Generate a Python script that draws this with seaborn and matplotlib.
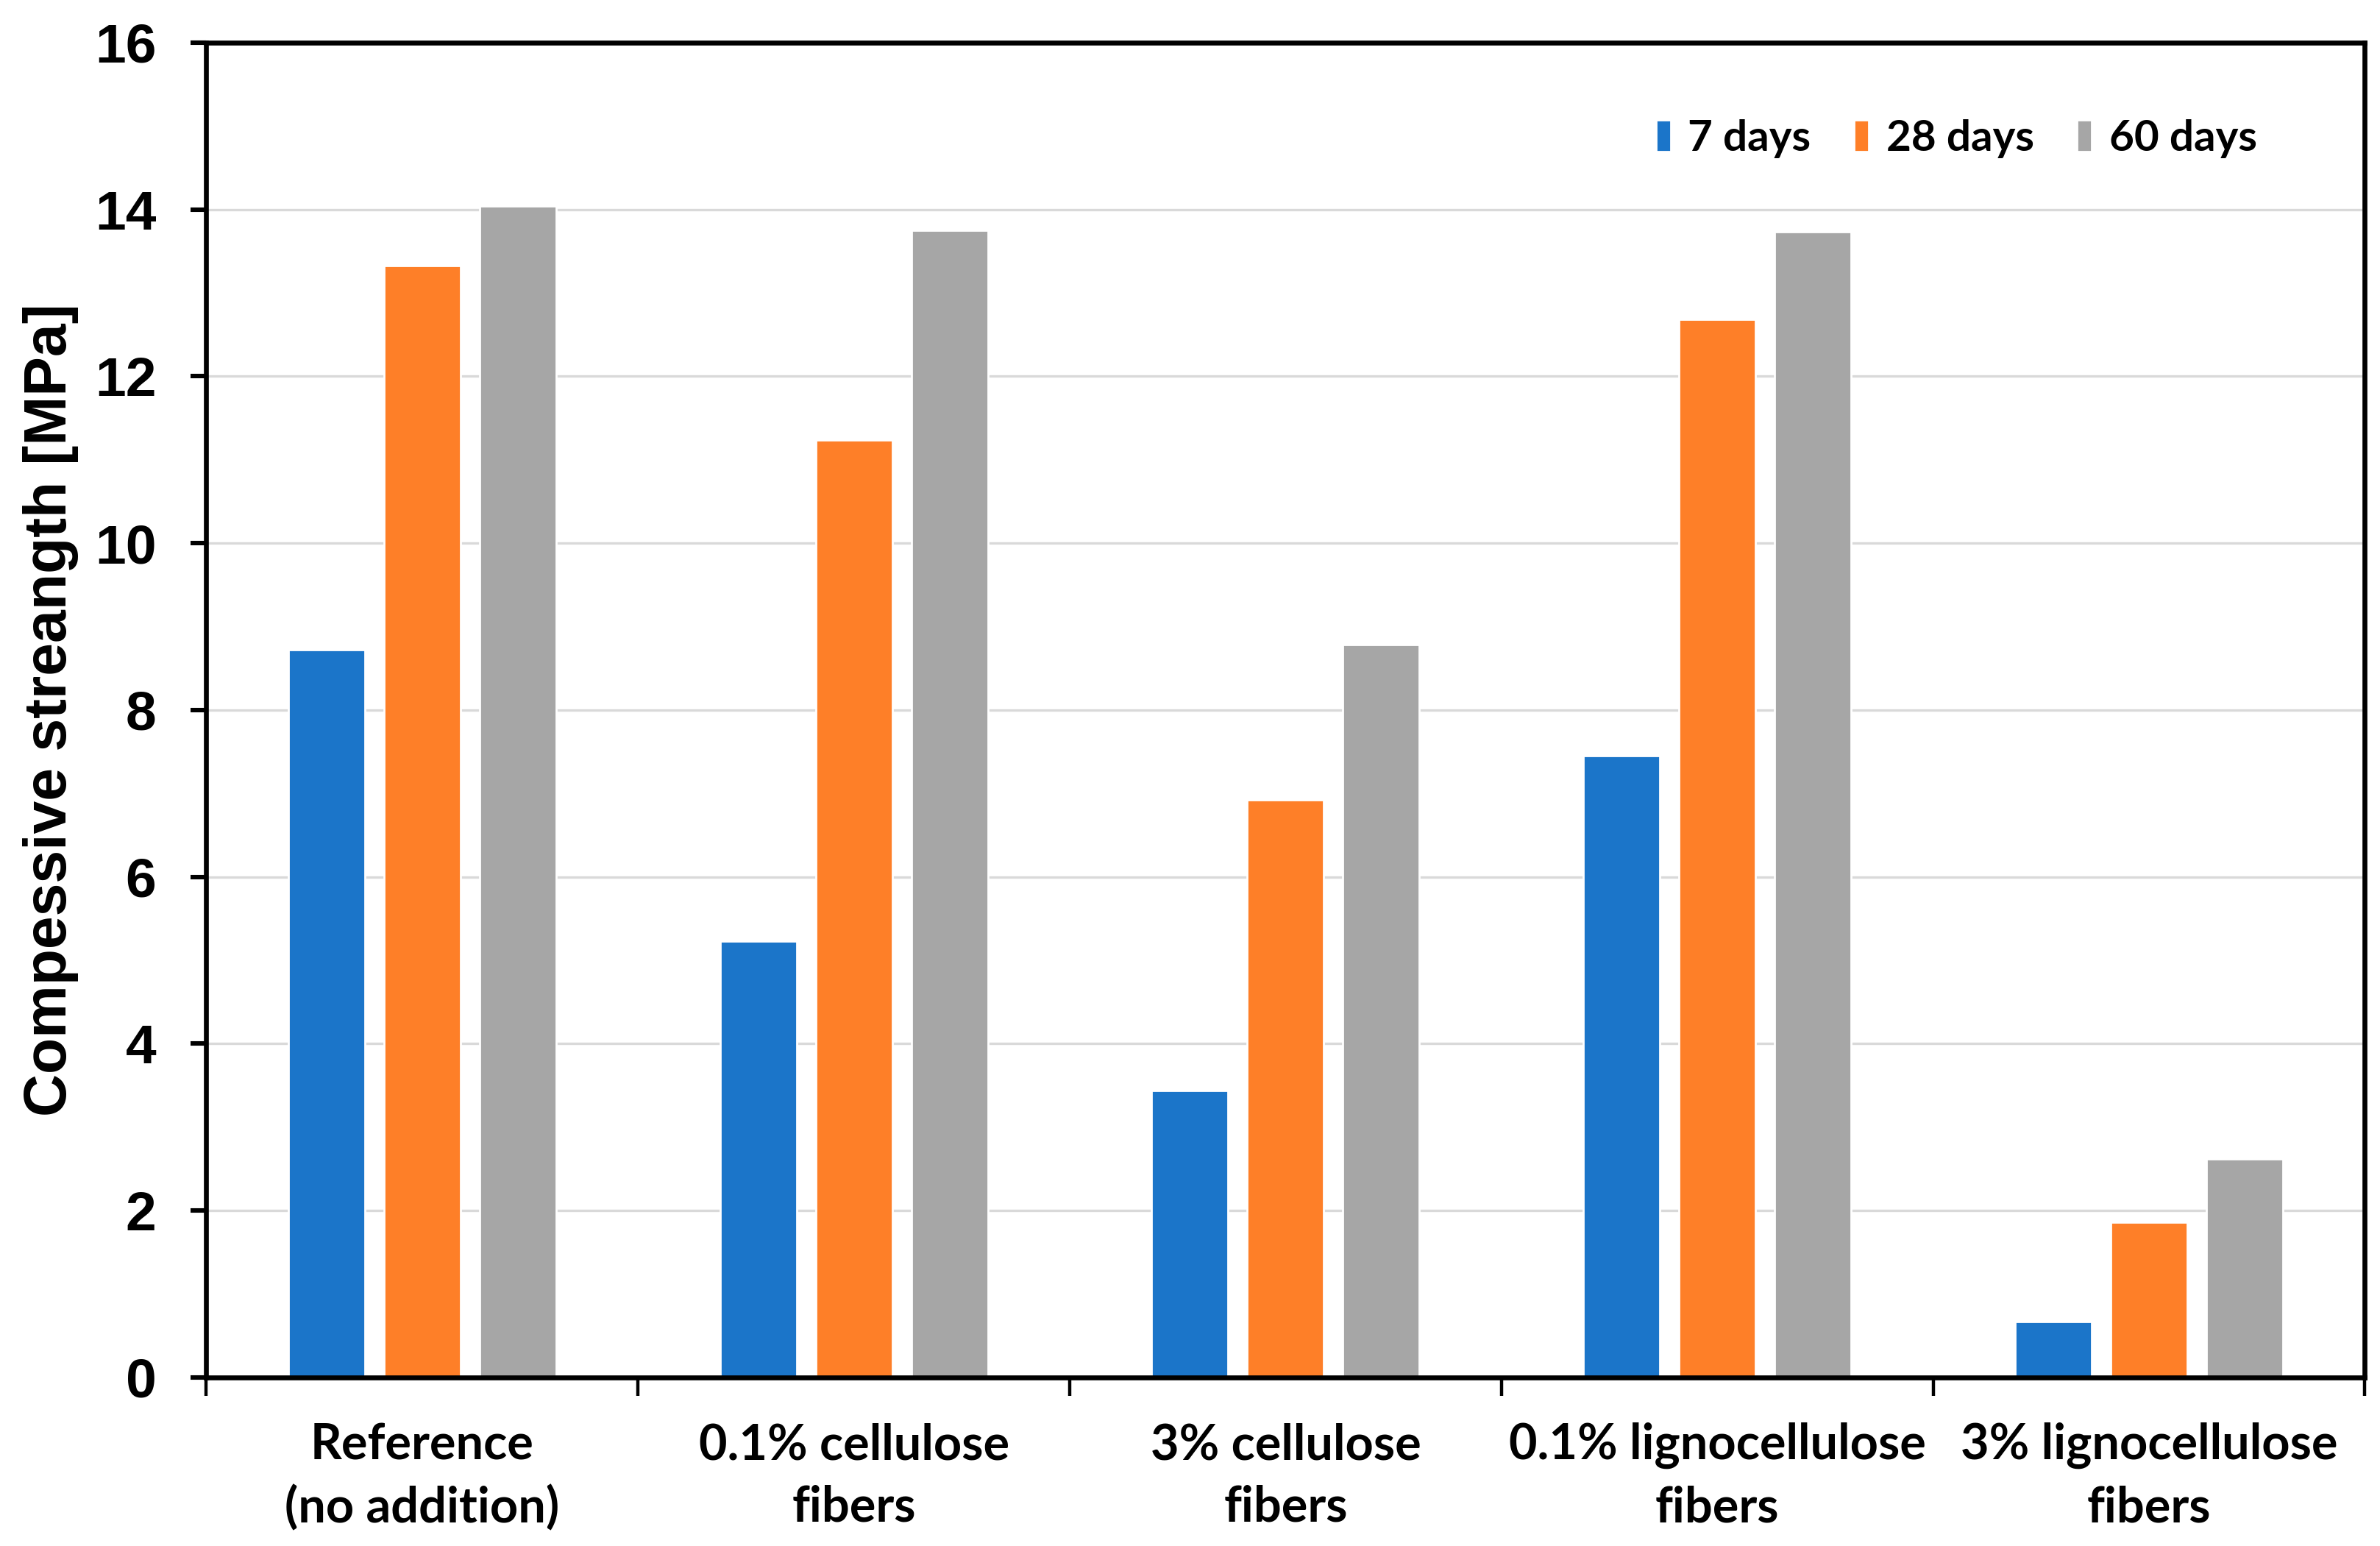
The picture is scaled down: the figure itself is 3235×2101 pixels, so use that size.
#!/usr/bin/env python3
# -*- coding: utf-8 -*-
"""
Compressive strength of mortar samples at 7 / 28 / 60 days
grouped bar chart (seaborn)
"""

import pandas as pd
import matplotlib
matplotlib.use('Agg')
import matplotlib.pyplot as plt
from matplotlib.ticker import FixedLocator
import seaborn as sns

# data
samples = ['Reference\n(no addition)', '0.1% cellulose\nfibers', '3% cellulose\nfibers',
           '0.1% lignocellulose\nfibers', '3% lignocellulose\nfibers']
ages = ['7 days', '28 days', '60 days']
strength_7d = [8.72, 5.23, 3.44, 7.45, 0.67]
strength_28d = [13.33, 11.24, 6.92, 12.68, 1.86]
strength_60d = [14.04, 13.75, 8.78, 13.73, 2.62]
y_ticks = [0, 2, 4, 6, 8, 10, 12, 14, 16]

colors = ['#1B75C9', '#FE7F28', '#A6A6A6']


def main():
    sns.set_theme(style='white')
    plt.rcParams['font.family'] = ['Liberation Sans', 'DejaVu Sans']
    # seaborn greys the text, the original is plain black
    for key in ['text.color', 'axes.labelcolor', 'xtick.color', 'ytick.color']:
        plt.rcParams[key] = 'black'

    # long-form table for seaborn
    rows = []
    for age, vals in zip(ages, [strength_7d, strength_28d, strength_60d]):
        for s, v in zip(samples, vals):
            rows.append({'sample': s, 'age': age, 'strength': v})
    df = pd.DataFrame(rows)

    fig, ax = plt.subplots(figsize=(16.175, 10.505), dpi=200)
    fig.subplots_adjust(left=0.0867, right=0.9936, top=0.9725, bottom=0.109)

    sns.barplot(data=df, x='sample', y='strength', hue='age', order=samples,
                hue_order=ages, palette=colors, saturation=1, width=0.665, gap=0.2,
                errorbar=None, ax=ax, zorder=2)

    # axes
    ax.set_xlim(-0.5, len(samples) - 0.5)
    ax.set_ylim(0, 16)
    ax.set_yticks(y_ticks)
    ax.set_xlabel('')
    ax.set_ylabel('Compessive streangth [MPa]', fontsize=29, fontweight='bold', labelpad=8)

    # grid
    ax.yaxis.grid(True, color='#D9D9D9', linewidth=1.2, zorder=0)
    ax.xaxis.grid(False)
    ax.set_axisbelow(True)

    for sp in ax.spines.values():
        sp.set_visible(True)
        sp.set_color('black')
        sp.set_linewidth(2.4)

    # y ticks
    ax.tick_params(axis='y', which='major', direction='out', length=7.5, width=2.2,
                   color='black', pad=17, left=True)
    for lab in ax.get_yticklabels():
        lab.set_fontsize(27)
        lab.set_fontweight('bold')

    # x ticks: marks at category borders, labels in the middle
    ax.xaxis.set_minor_locator(FixedLocator([i - 0.5 for i in range(len(samples) + 1)]))
    ax.tick_params(axis='x', which='minor', direction='out', length=9, width=1.6,
                   color='black', bottom=True)
    ax.tick_params(axis='x', which='major', length=0, pad=22)
    for lab in ax.get_xticklabels():
        lab.set_fontsize(24)
        lab.set_fontweight('bold')
        lab.set_family(['Lato', 'DejaVu Sans'])
        lab.set_linespacing(1.45)

    # legend
    ax.legend(title=None, loc='center right', bbox_to_anchor=(0.96, 0.928), ncol=3,
              frameon=False, borderpad=0, handlelength=0.35, handleheight=0.75,
              handletextpad=0.4, columnspacing=1.0,
              prop={'family': ['Lato', 'DejaVu Sans'], 'weight': 'bold', 'size': 21})

    plt.savefig('out.png', dpi=200)
    print('saved out.png')


if __name__ == '__main__':
    main()
